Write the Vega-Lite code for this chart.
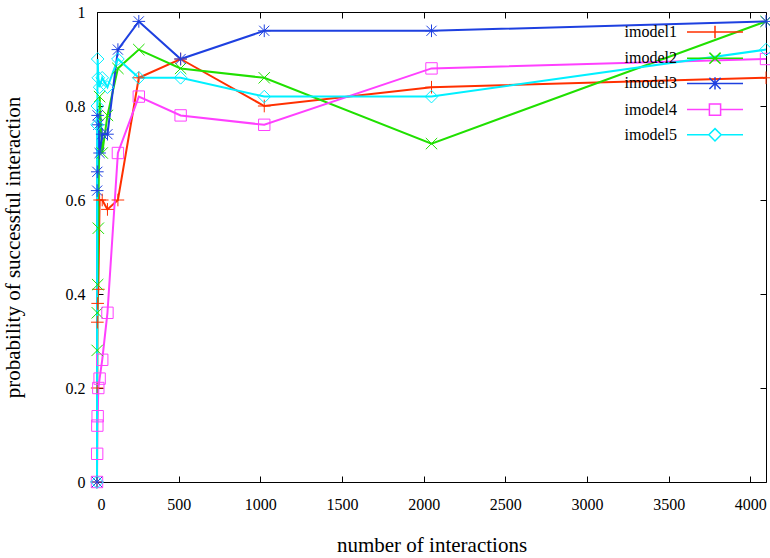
{
  "$schema": "https://vega.github.io/schema/vega-lite/v6.json",
  "width": 669,
  "height": 470,
  "autosize": "none",
  "padding": {"left": 97, "top": 12, "right": 4, "bottom": 76},
  "background": "white",
  "config": {
    "font": "Liberation Serif",
    "view": {"stroke": "#000000", "strokeWidth": 1},
    "axis": {"grid": false, "domain": false, "tickColor": "#000000", "labelColor": "#000000", "titleColor": "#000000", "labelFont": "Liberation Serif", "titleFont": "Liberation Serif", "labelFontSize": 16, "titleFontSize": 21, "titleFontWeight": "normal"},
    "legend": {"labelFont": "Liberation Serif", "labelFontSize": 16, "labelColor": "#000000"},
    "point": {"filled": false, "strokeWidth": 1, "size": 160, "opacity": 1, "clip": false}
  },
  "data": {"values": [
    {"model": "imodel1", "x": 0, "y": 0},
    {"model": "imodel1", "x": 1, "y": 0.2},
    {"model": "imodel1", "x": 2, "y": 0.34},
    {"model": "imodel1", "x": 4, "y": 0.38},
    {"model": "imodel1", "x": 8, "y": 0.41},
    {"model": "imodel1", "x": 16, "y": 0.6},
    {"model": "imodel1", "x": 32, "y": 0.6},
    {"model": "imodel1", "x": 64, "y": 0.58},
    {"model": "imodel1", "x": 128, "y": 0.6},
    {"model": "imodel1", "x": 256, "y": 0.86},
    {"model": "imodel1", "x": 512, "y": 0.9},
    {"model": "imodel1", "x": 1024, "y": 0.8},
    {"model": "imodel1", "x": 2048, "y": 0.84},
    {"model": "imodel1", "x": 4096, "y": 0.86},
    {"model": "imodel2", "x": 0, "y": 0},
    {"model": "imodel2", "x": 1, "y": 0.28},
    {"model": "imodel2", "x": 2, "y": 0.36},
    {"model": "imodel2", "x": 4, "y": 0.42},
    {"model": "imodel2", "x": 8, "y": 0.54},
    {"model": "imodel2", "x": 16, "y": 0.82},
    {"model": "imodel2", "x": 32, "y": 0.7},
    {"model": "imodel2", "x": 64, "y": 0.78},
    {"model": "imodel2", "x": 128, "y": 0.88},
    {"model": "imodel2", "x": 256, "y": 0.92},
    {"model": "imodel2", "x": 512, "y": 0.88},
    {"model": "imodel2", "x": 1024, "y": 0.86},
    {"model": "imodel2", "x": 2048, "y": 0.72},
    {"model": "imodel2", "x": 4096, "y": 0.98},
    {"model": "imodel3", "x": 0, "y": 0},
    {"model": "imodel3", "x": 1, "y": 0.62},
    {"model": "imodel3", "x": 2, "y": 0.66},
    {"model": "imodel3", "x": 4, "y": 0.78},
    {"model": "imodel3", "x": 8, "y": 0.76},
    {"model": "imodel3", "x": 16, "y": 0.7},
    {"model": "imodel3", "x": 32, "y": 0.74},
    {"model": "imodel3", "x": 64, "y": 0.74},
    {"model": "imodel3", "x": 128, "y": 0.92},
    {"model": "imodel3", "x": 256, "y": 0.98},
    {"model": "imodel3", "x": 512, "y": 0.9},
    {"model": "imodel3", "x": 1024, "y": 0.96},
    {"model": "imodel3", "x": 2048, "y": 0.96},
    {"model": "imodel3", "x": 4096, "y": 0.98},
    {"model": "imodel4", "x": 0, "y": 0},
    {"model": "imodel4", "x": 1, "y": 0.06},
    {"model": "imodel4", "x": 2, "y": 0.12},
    {"model": "imodel4", "x": 4, "y": 0.14},
    {"model": "imodel4", "x": 8, "y": 0.2},
    {"model": "imodel4", "x": 16, "y": 0.22},
    {"model": "imodel4", "x": 32, "y": 0.26},
    {"model": "imodel4", "x": 64, "y": 0.36},
    {"model": "imodel4", "x": 128, "y": 0.7},
    {"model": "imodel4", "x": 256, "y": 0.82},
    {"model": "imodel4", "x": 512, "y": 0.78},
    {"model": "imodel4", "x": 1024, "y": 0.76},
    {"model": "imodel4", "x": 2048, "y": 0.88},
    {"model": "imodel4", "x": 4096, "y": 0.9},
    {"model": "imodel5", "x": 0, "y": 0},
    {"model": "imodel5", "x": 1, "y": 0.76},
    {"model": "imodel5", "x": 2, "y": 0.8},
    {"model": "imodel5", "x": 4, "y": 0.9},
    {"model": "imodel5", "x": 8, "y": 0.86},
    {"model": "imodel5", "x": 16, "y": 0.84},
    {"model": "imodel5", "x": 32, "y": 0.86},
    {"model": "imodel5", "x": 64, "y": 0.84},
    {"model": "imodel5", "x": 128, "y": 0.9},
    {"model": "imodel5", "x": 256, "y": 0.86},
    {"model": "imodel5", "x": 512, "y": 0.86},
    {"model": "imodel5", "x": 1024, "y": 0.82},
    {"model": "imodel5", "x": 2048, "y": 0.82},
    {"model": "imodel5", "x": 4096, "y": 0.92}
  ]},
  "resolve": {"axis": {"x": "independent", "y": "independent"}},
  "layer": [
    {
      "mark": {"type": "line", "strokeWidth": 2, "clip": false},
      "encoding": {
        "x": {"field": "x", "type": "quantitative", "scale": {"domain": [0, 4096], "nice": false, "zero": false},
              "axis": {"orient": "bottom", "title": "number of interactions", "values": [0, 500, 1000, 1500, 2000, 2500, 3000, 3500, 4000], "format": "d", "tickSize": -6, "labelPadding": 20, "titlePadding": 22}},
        "y": {"field": "y", "type": "quantitative", "scale": {"domain": [0, 1], "nice": false, "zero": false},
              "axis": {"orient": "left", "title": "probability of successful interaction", "values": [0, 0.2, 0.4, 0.6, 0.8, 1], "format": "~g", "tickSize": -6, "labelPadding": 18, "titlePadding": 42}},
        "color": {"field": "model", "type": "nominal",
                  "scale": {"domain": ["imodel1", "imodel2", "imodel3", "imodel4", "imodel5"], "range": ["#ff3000", "#20e000", "#1e40e0", "#ff40ff", "#00f0ff"]},
                  "legend": {"title": null, "orient": "none", "legendX": 603, "legendY": 5, "labelAlign": "right", "labelOffset": -53, "rowPadding": 1.2, "symbolStrokeWidth": 1.5, "symbolSize": 784,
                    "encode": {"symbols": {"update": {
                      "shape": {"signal": "datum.value === 'imodel1' ? 'M-2,0H2M0,-0.44V0.44' : datum.value === 'imodel2' ? 'M-2,0H2M-0.4,-0.4L0.4,0.4M-0.4,0.4L0.4,-0.4' : datum.value === 'imodel3' ? 'M-2,0H2M0,-0.44V0.44M-0.4,-0.4L0.4,0.4M-0.4,0.4L0.4,-0.4' : datum.value === 'imodel4' ? 'M-2,0H-0.4M0.4,0H2M-0.4,-0.4H0.4V0.4H-0.4Z' : 'M-2,0H-0.44M0.44,0H2M0,-0.44L0.44,0L0,0.44L-0.44,0Z'"},
                      "fill": {"value": "transparent"},
                      "strokeWidth": {"value": 1.5}
                    }}}
                  }}
      }
    },
    {
      "transform": [{"filter": "datum.model === 'imodel1'"}],
      "mark": {"type": "point", "shape": "M-1,0H1M0,-1V1"},
      "encoding": {
        "x": {"field": "x", "type": "quantitative", "axis": {"orient": "top", "title": null, "labels": false, "values": [0, 500, 1000, 1500, 2000, 2500, 3000, 3500, 4000], "tickSize": -6}},
        "y": {"field": "y", "type": "quantitative", "axis": {"orient": "right", "title": null, "labels": false, "values": [0, 0.2, 0.4, 0.6, 0.8, 1], "tickSize": -6}},
        "color": {"field": "model", "type": "nominal"}
      }
    },
    {
      "transform": [{"filter": "datum.model === 'imodel2'"}],
      "mark": {"type": "point", "shape": "M-0.9,-0.9L0.9,0.9M-0.9,0.9L0.9,-0.9"},
      "encoding": {
        "x": {"field": "x", "type": "quantitative", "axis": null},
        "y": {"field": "y", "type": "quantitative", "axis": null},
        "color": {"field": "model", "type": "nominal"}
      }
    },
    {
      "transform": [{"filter": "datum.model === 'imodel3'"}],
      "mark": {"type": "point", "shape": "M-1,0H1M0,-1V1M-0.8,-0.8L0.8,0.8M-0.8,0.8L0.8,-0.8"},
      "encoding": {
        "x": {"field": "x", "type": "quantitative", "axis": null},
        "y": {"field": "y", "type": "quantitative", "axis": null},
        "color": {"field": "model", "type": "nominal"}
      }
    },
    {
      "transform": [{"filter": "datum.model === 'imodel4'"}],
      "mark": {"type": "point", "shape": "M-0.9,-0.9H0.9V0.9H-0.9Z"},
      "encoding": {
        "x": {"field": "x", "type": "quantitative", "axis": null},
        "y": {"field": "y", "type": "quantitative", "axis": null},
        "color": {"field": "model", "type": "nominal"}
      }
    },
    {
      "transform": [{"filter": "datum.model === 'imodel5'"}],
      "mark": {"type": "point", "shape": "M0,-1L1,0L0,1L-1,0Z"},
      "encoding": {
        "x": {"field": "x", "type": "quantitative", "axis": null},
        "y": {"field": "y", "type": "quantitative", "axis": null},
        "color": {"field": "model", "type": "nominal"}
      }
    }
  ]
}
